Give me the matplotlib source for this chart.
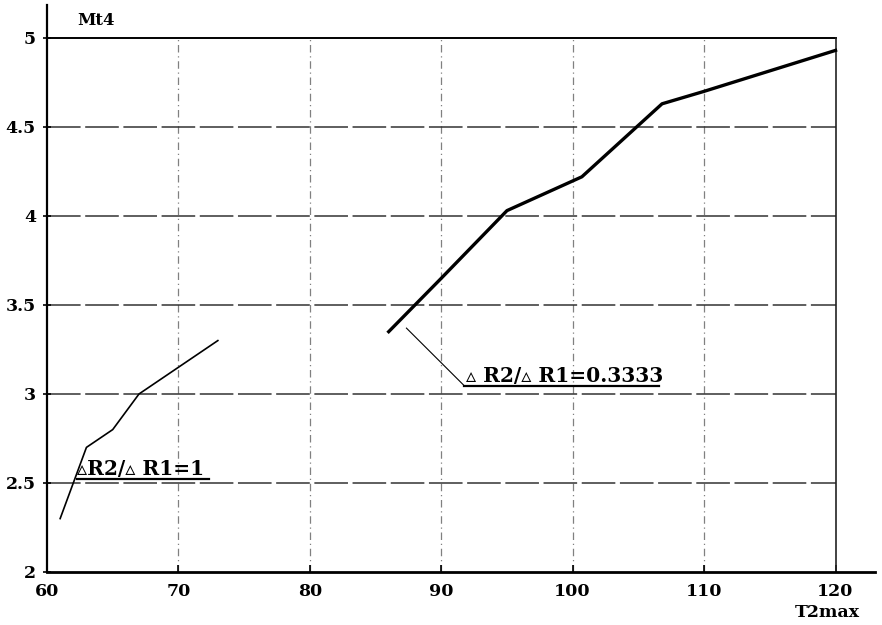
import matplotlib.pyplot as plt

# values
t2_a = [61, 62, 63, 65, 67, 69, 71, 73]
mt4_a = [2.30, 2.50, 2.70, 2.80, 3.00, 3.10, 3.20, 3.30]

t2_b = [86, 90, 95, 100.7, 106.8, 110, 120]
mt4_b = [3.35, 3.65, 4.03, 4.22, 4.63, 4.70, 4.93]

xticks = [60, 70, 80, 90, 100, 110, 120]
yticks = [2, 2.5, 3, 3.5, 4, 4.5, 5]
yticklabels = ['2', '2.5', '3', '3.5', '4', '4.5', '5']

label_a = '▵R2/▵ R1=1'
label_b = '▵ R2/▵ R1=0.3333'

FONT = ['DejaVu Serif', 'DejaVu Sans']

if __name__ == '__main__':
    plt.rcParams['font.family'] = FONT
    plt.rcParams['font.weight'] = 'bold'

    fig = plt.figure(figsize=(8.82, 6.25), dpi=100)
    ax = fig.add_axes([0.0533, 0.0848, 0.9387, 0.9072])

    # grid, drawn by hand so it stops at the frame (120 / 5)
    ax.vlines(xticks[1:-1], 2, 5, color='#808080', lw=0.9,
              linestyles=(0, (6, 3, 1, 3)), zorder=1)
    ax.hlines(yticks[1:-1], 60, 120, color='#333333', lw=1.1,
              linestyles=(0, (22, 3)), zorder=1)
    ax.plot([60, 120], [5, 5], color='black', lw=1.4, zorder=2)
    ax.plot([120, 120], [2, 5], color='#222222', lw=1.2, zorder=2)

    ax.plot(t2_a, mt4_a, color='black', lw=1.2, zorder=3)
    ax.plot(t2_b, mt4_b, color='black', lw=2.4, zorder=3)

    # annotation 1
    ax.text(62.3, 2.545, label_a, fontsize=14.5, fontweight='bold', family=FONT)
    ax.plot([62.3, 72.3], [2.525, 2.525], color='black', lw=1.6, zorder=3)

    # annotation 2
    ax.plot([87.35, 91.7], [3.37, 3.05], color='black', lw=0.8, zorder=3)
    ax.text(91.9, 3.065, label_b, fontsize=14.5, fontweight='bold', family=FONT)
    ax.plot([91.7, 106.6], [3.045, 3.045], color='black', lw=1.6, zorder=3)

    ax.text(62.3, 5.075, 'Mt4', fontsize=12, fontweight='bold')
    ax.text(0.982, -0.072, 'T2max', transform=ax.transAxes, ha='right',
            va='center', fontsize=12.5, fontweight='bold')

    ax.set_xlim(60, 123)
    ax.set_ylim(2, 5.185)
    ax.set_xticks(xticks)
    ax.set_yticks(yticks)
    ax.set_yticklabels(yticklabels)
    ax.tick_params(axis='both', labelsize=12.5, width=1.2)
    ax.tick_params(axis='x', direction='in', length=5, pad=8)
    ax.tick_params(axis='y', direction='inout', length=6, pad=5)

    ax.spines['right'].set_visible(False)
    ax.spines['top'].set_visible(False)
    ax.spines['left'].set_linewidth(1.6)
    ax.spines['bottom'].set_linewidth(2.0)

    plt.savefig('out.png', dpi=100)
